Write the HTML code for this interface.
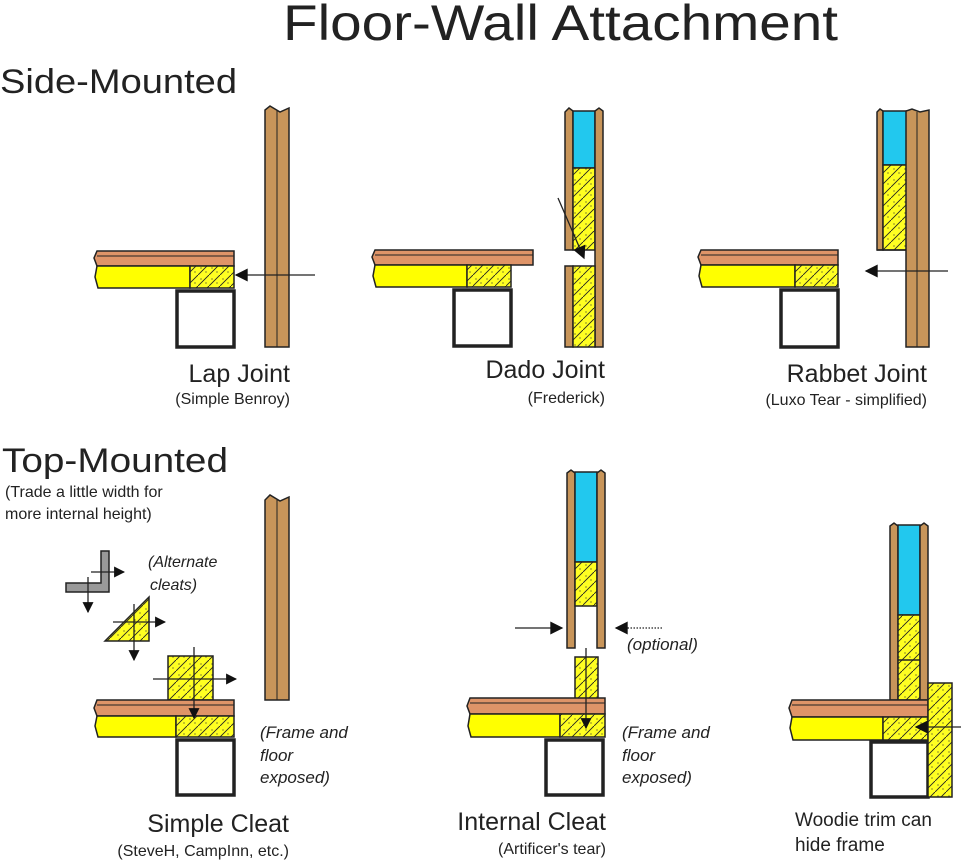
<!DOCTYPE html>
<html><head><meta charset="utf-8"><style>
html,body{margin:0;padding:0;background:#fff;}
svg{display:block;}
text{font-family:"Liberation Sans",sans-serif;fill:#222;}
.it{font-style:italic;}
</style></head><body>
<svg width="961" height="868" viewBox="0 0 961 868" xmlns="http://www.w3.org/2000/svg">
<defs>
<pattern id="h" patternUnits="userSpaceOnUse" width="11" height="11">
<rect width="11" height="11" fill="#ffff22"/>
<path d="M0 11 L11 0" stroke="#222" stroke-width="0.9"/>
<circle cx="3" cy="4" r="0.6" fill="#333"/><circle cx="8" cy="8" r="0.6" fill="#333"/>
</pattern>
<marker id="a" viewBox="0 0 10 10" refX="9" refY="5" markerWidth="11" markerHeight="11" markerUnits="userSpaceOnUse" orient="auto"><path d="M0 0 L10 5 L0 10 z" fill="#111" stroke="none"/></marker>
<marker id="b" viewBox="0 0 10 10" refX="9" refY="5" markerWidth="15" markerHeight="13" markerUnits="userSpaceOnUse" orient="auto"><path d="M0 0 L10 5 L0 10 z" fill="#111" stroke="none"/></marker>
</defs>

<text x="283" y="40" font-size="50" textLength="555" lengthAdjust="spacingAndGlyphs">Floor-Wall Attachment</text>
<text x="0" y="93" font-size="34" textLength="237" lengthAdjust="spacingAndGlyphs">Side-Mounted</text>
<text x="2" y="472" font-size="34" textLength="226" lengthAdjust="spacingAndGlyphs">Top-Mounted</text>

<g stroke="#222" stroke-width="1.5">
<!-- LAP -->
<path d="M265 347 V110 L270 106 L280 112 L289 108 V347 Z" fill="#c8955a"/>
<line x1="277" y1="110" x2="277" y2="347" stroke-width="1"/>
<path d="M97 251 H234 V266 H97 L94 258 Z" fill="#df9468"/>
<line x1="97" y1="256" x2="234" y2="256" stroke-width="1"/>
<path d="M97 266 H190 V288 H98 L95 277 Z" fill="#ffff00"/>
<rect x="190" y="266" width="44" height="22" fill="url(#h)"/>
<rect x="177" y="291" width="57" height="56" fill="#fff" stroke-width="3.5"/>
<line x1="315" y1="275" x2="236" y2="275" stroke-width="1.3" marker-end="url(#b)"/>

<!-- DADO -->
<path d="M565 250 V112 L569 108 L573 111 V250 Z" fill="#c8955a"/>
<rect x="573" y="111" width="22" height="57" fill="#22c8ee"/>
<rect x="573" y="168" width="22" height="82" fill="url(#h)"/>
<path d="M595 347 V111 L599 108 L603 111 V347 Z" fill="#c8955a"/>
<rect x="565" y="266" width="8" height="81" fill="#c8955a"/>
<rect x="573" y="266" width="22" height="81" fill="url(#h)"/>
<path d="M375 250 H533 V265 H375 L372 257 Z" fill="#df9468"/>
<line x1="375" y1="255" x2="533" y2="255" stroke-width="1"/>
<path d="M375 265 H467 V287 H376 L373 276 Z" fill="#ffff00"/>
<rect x="467" y="265" width="44" height="22" fill="url(#h)"/>
<rect x="454" y="290" width="57" height="56" fill="#fff" stroke-width="3.5"/>
<line x1="558" y1="198" x2="584" y2="258" stroke-width="1.3" marker-end="url(#b)"/>

<!-- RABBET -->
<path d="M877 250 V112 L880 109 L883 111 V250 Z" fill="#c8955a"/>
<rect x="883" y="111" width="24" height="54" fill="#22c8ee"/>
<rect x="883" y="165" width="24" height="85" fill="url(#h)"/>
<line x1="877" y1="250" x2="907" y2="250"/>
<path d="M906 347 V111 L912 109 L920 112 L929 110 V347 Z" fill="#c8955a"/>
<line x1="917" y1="112" x2="917" y2="347" stroke-width="1"/>
<path d="M701 250 H838 V265 H701 L698 257 Z" fill="#df9468"/>
<line x1="701" y1="255" x2="838" y2="255" stroke-width="1"/>
<path d="M701 265 H795 V287 H702 L699 276 Z" fill="#ffff00"/>
<rect x="795" y="265" width="43" height="22" fill="url(#h)"/>
<rect x="781" y="290" width="57" height="57" fill="#fff" stroke-width="3.5"/>
<line x1="948" y1="271" x2="866" y2="271" stroke-width="1.3" marker-end="url(#b)"/>

<!-- SIMPLE CLEAT -->
<path d="M265 700 V500 L270 495 L280 501 L289 497 V700 Z" fill="#c8955a"/>
<line x1="277" y1="500" x2="277" y2="700" stroke-width="1"/>
<path d="M101 551 H109 V592 H66 V583 H101 Z" fill="#999"/>
<line x1="91" y1="572" x2="124" y2="572" stroke-width="1.3" marker-end="url(#a)"/>
<line x1="88" y1="577" x2="88" y2="612" stroke-width="1.3" marker-end="url(#a)"/>
<path d="M105 641 L149 597 V641 Z" fill="url(#h)"/>
<line x1="113" y1="622" x2="165" y2="622" stroke-width="1.3" marker-end="url(#a)"/>
<line x1="134" y1="604" x2="134" y2="660" stroke-width="1.3" marker-end="url(#a)"/>
<rect x="168" y="656" width="45" height="44" fill="url(#h)"/>
<path d="M97 700 H234 V716 H97 L94 708 Z" fill="#df9468"/>
<line x1="97" y1="705" x2="234" y2="705" stroke-width="1"/>
<path d="M97 716 H176 V737 H98 L95 726 Z" fill="#ffff00"/>
<rect x="176" y="716" width="58" height="21" fill="url(#h)"/>
<rect x="177" y="740" width="57" height="55" fill="#fff" stroke-width="3.5"/>
<line x1="153" y1="679" x2="236" y2="679" stroke-width="1.3" marker-end="url(#a)"/>
<line x1="194" y1="647" x2="194" y2="718" stroke-width="1.3" marker-end="url(#a)"/>

<!-- INTERNAL CLEAT -->
<path d="M567 648 V473 L571 470 L575 473 V648 Z" fill="#c8955a"/>
<rect x="575" y="472" width="22" height="90" fill="#22c8ee"/>
<rect x="575" y="562" width="22" height="44" fill="url(#h)"/>
<path d="M597 648 V473 L601 470 L605 473 V648 Z" fill="#c8955a"/>
<rect x="575" y="657" width="23" height="42" fill="url(#h)"/>
<path d="M470 698 H605 V714 H470 L467 706 Z" fill="#df9468"/>
<line x1="470" y1="703" x2="605" y2="703" stroke-width="1"/>
<path d="M470 714 H560 V737 H471 L468 726 Z" fill="#ffff00"/>
<rect x="560" y="714" width="45" height="23" fill="url(#h)"/>
<rect x="546" y="740" width="57" height="55" fill="#fff" stroke-width="3.5"/>
<line x1="586" y1="648" x2="586" y2="728" stroke-width="1.3" marker-end="url(#a)"/>
<line x1="515" y1="628" x2="562" y2="628" stroke-width="1.3" marker-end="url(#b)"/>
<line x1="662" y1="628" x2="616" y2="628" stroke-width="1.3" stroke-dasharray="1.5 1.5" marker-end="url(#b)"/>

<!-- WOODIE -->
<path d="M890 700 V526 L894 523 L898 526 V700 Z" fill="#c8955a"/>
<rect x="898" y="525" width="22" height="90" fill="#22c8ee"/>
<rect x="898" y="615" width="22" height="85" fill="url(#h)"/>
<line x1="898" y1="660" x2="920" y2="660"/>
<path d="M920 700 V526 L924 523 L928 526 V700 Z" fill="#c8955a"/>
<path d="M792 700 H928 V717 H792 L789 708 Z" fill="#df9468"/>
<line x1="792" y1="705" x2="928" y2="705" stroke-width="1"/>
<path d="M792 717 H883 V740 H793 L790 728 Z" fill="#ffff00"/>
<rect x="883" y="717" width="45" height="23" fill="url(#h)"/>
<rect x="871" y="742" width="57" height="55" fill="#fff" stroke-width="3.5"/>
<rect x="928" y="683" width="24" height="114" fill="url(#h)"/>
<line x1="961" y1="727" x2="916" y2="727" stroke-width="1.3" marker-end="url(#b)"/>
</g>

<text x="290" y="382" font-size="25" text-anchor="end">Lap Joint</text>
<text x="290" y="404" font-size="16" text-anchor="end">(Simple Benroy)</text>
<text x="605" y="378" font-size="25" text-anchor="end">Dado Joint</text>
<text x="605" y="403" font-size="16" text-anchor="end">(Frederick)</text>
<text x="927" y="382" font-size="25" text-anchor="end">Rabbet Joint</text>
<text x="927" y="405" font-size="16" text-anchor="end">(Luxo Tear - simplified)</text>

<text x="5" y="497" font-size="16">(Trade a little width for</text>
<text x="5" y="519" font-size="16">more internal height)</text>
<text x="148" y="567" font-size="16" class="it">(Alternate</text>
<text x="150" y="590" font-size="16" class="it">cleats)</text>
<text x="260" y="738" font-size="17" class="it">(Frame and</text>
<text x="260" y="761" font-size="17" class="it">floor</text>
<text x="260" y="783" font-size="17" class="it">exposed)</text>
<text x="627" y="650" font-size="17" class="it">(optional)</text>
<text x="622" y="738" font-size="17" class="it">(Frame and</text>
<text x="622" y="761" font-size="17" class="it">floor</text>
<text x="622" y="783" font-size="17" class="it">exposed)</text>

<text x="289" y="832" font-size="25" text-anchor="end">Simple Cleat</text>
<text x="289" y="856" font-size="16" text-anchor="end">(SteveH, CampInn, etc.)</text>
<text x="606" y="830" font-size="25" text-anchor="end">Internal Cleat</text>
<text x="606" y="854" font-size="16" text-anchor="end">(Artificer's tear)</text>
<text x="795" y="826" font-size="19">Woodie trim can</text>
<text x="795" y="851" font-size="19">hide frame</text>
</svg>
</body></html>
